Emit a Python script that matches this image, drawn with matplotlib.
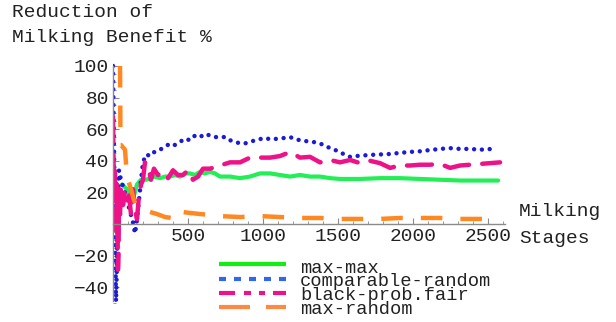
import matplotlib
matplotlib.use("Agg")
import matplotlib.pyplot as plt
from matplotlib.lines import Line2D
from matplotlib.ticker import MultipleLocator, FixedLocator

plt.rcParams['font.family'] = ['Liberation Mono', 'DejaVu Sans Mono']
plt.rcParams['lines.scale_dashes'] = False

# ---------------- data ----------------
series_names = ["max-max", "comparable-random", "black-prob.fair", "max-random"]

mm_x = [60, 93, 120, 140, 160, 187, 220, 247, 280, 313, 347, 380, 413, 447, 480, 513, 547, 580,
        613, 647, 680, 713, 780, 847, 913, 980, 1047, 1113, 1180, 1247, 1313, 1380, 1447, 1513,
        1647, 1780, 1913, 2047, 2180, 2313, 2447, 2567]
mm_y = [25, 22, 15, 18, 25, 28, 28, 29, 30, 29, 30, 30, 31, 30, 32, 32, 31, 33,
        32, 33, 32, 30, 30, 29, 30, 32, 32, 31, 30, 31, 30, 30, 29, 28.5,
        28.5, 29, 29, 28.5, 28, 27.5, 27.5, 27.5]

cr_x = [0, 7, 13, 20, 27, 33, 40, 53, 73, 93, 113, 133, 147, 160, 173, 187, 200, 220, 250, 280,
        313, 350, 380, 413, 447, 480, 513, 547, 580, 613, 647, 680, 713, 750, 780, 813, 847, 880,
        913, 950, 1013, 1050, 1100, 1150, 1180, 1220, 1280, 1330, 1380, 1420, 1467, 1520, 1580,
        1620, 1713, 1780, 1847, 1913, 1980, 2047, 2113, 2180, 2247, 2313, 2380, 2447, 2527]
cr_y = [100, 47, 0, -49, -23, 15, 34, 28, 22, 15, 8, 1, -6, 3, 15, 28, 39, 44, 43, 46,
        47, 49, 51, 50, 52, 54, 53, 56, 55, 57, 56, 55, 55, 55, 53, 52, 51, 51,
        52, 53, 54.5, 53.5, 54, 54.5, 55, 53.5, 52.5, 52, 51, 49, 47.5, 45, 42.5,
        43, 43.7, 44, 44.3, 45, 45.6, 46, 46.8, 47.5, 48, 47.5, 47.5, 47, 47.5]

bp_x = [0, 7, 13, 20, 27, 33, 37, 40, 47, 53, 67, 80, 93, 107, 120, 133, 147, 160, 173, 187,
        200, 213, 233, 253, 273, 300, 333, 367, 400, 433, 467, 500, 533, 567, 600, 647, 713,
        780, 847, 913, 980, 1047, 1113, 1180, 1247, 1313, 1380, 1447, 1513, 1580, 1647, 1713,
        1780, 1847, 1913, 1980, 2047, 2113, 2180, 2247, 2313, 2380, 2447, 2513, 2580]
bp_y = [68, 15, 34, -4, 28, -29, -20, 22, 6, 25, 12, 22, 15, 18, 6, 22, 9, 3, 18, 25,
        28, 39, 37, 28, 35, 31, 33, 29, 34, 31, 31, 34, 28, 30, 35, 35, 37,
        39, 39, 42, 42, 42, 43, 45.5, 42, 42.5, 39, 40.5, 39, 40.5, 38.5, 40,
        38.5, 35.5, 37, 37, 37.5, 37.5, 38, 35.5, 37, 37.5, 38, 38.5, 39]

mr_x = [47, 50, 53, 80, 90, 100, 120, 140, 153, 180, 213, 247, 293, 347, 393, 400, 460, 513,
        580, 647, 713, 847, 980, 1113, 1247, 1380, 1513, 1647, 1780, 1913, 2047, 2180, 2313,
        2447, 2567]
mr_y = [100, 50, 50, 47, 34, 28, 22, 15, 12, 10, 9, 7.6, 6.3, 4.4, 3.8, 7.6, 7.6, 7,
        6.3, 5.7, 5, 4.4, 5, 4.4, 3.8, 3.8, 3.2, 3.2, 3.2, 3.8, 3.8, 3.8, 3.2,
        3.2, 3.2]

x_ticks = [500, 1000, 1500, 2000, 2500]
y_ticks = [-40, -20, 20, 40, 60, 80, 100]

# ---------------- styles ----------------
px = 0.72  # points per pixel at dpi 100
green = '#22ee55'
blue = '#1a1ad8'
magenta = '#ee1188'
orange = '#ff8822'

W, H = 616, 322
fig = plt.figure(figsize=(W / 100, H / 100), dpi=100)
ax_left, ax_right = 113, 505
ax_top, ax_bot = 62.8, 303
ax = fig.add_axes([ax_left / W, 1 - ax_bot / H, (ax_right - ax_left) / W, (ax_bot - ax_top) / H])
ax.set_xlim(0, 2613)
ax.set_ylim(-50, 102)

ax.plot(mm_x, mm_y, color=green, lw=3.0, solid_capstyle='round', solid_joinstyle='round')
ax.plot(cr_x, cr_y, color=blue, lw=3.2, linestyle=(0, (0.01, 5.6)), dash_capstyle='round')
ax.plot(bp_x, bp_y, color=magenta, lw=3.2, linestyle=(0, (18, 9.5)), dash_capstyle='round',
        dash_joinstyle='round')
ax.plot(mr_x, mr_y, color=orange, lw=3.2, linestyle=(0, (15.5, 13)), dash_capstyle='butt')

for s in ['top', 'right']:
    ax.spines[s].set_visible(False)
ax.spines['left'].set_position(('data', 0))
ax.spines['bottom'].set_position(('data', 0))
for s in ['left', 'bottom']:
    ax.spines[s].set_color('#8a8a8a')
    ax.spines[s].set_linewidth(1.0)
ax.spines['left'].set_bounds(-49, 100)

ax.xaxis.set_major_locator(FixedLocator(x_ticks))
ax.xaxis.set_minor_locator(MultipleLocator(100))
ax.yaxis.set_major_locator(FixedLocator(y_ticks))
ax.yaxis.set_minor_locator(MultipleLocator(5))
ax.tick_params(axis='both', which='major', direction='in', length=4, width=0.8, color='#8a8a8a',
               labelsize=14, labelcolor='#222222', pad=3)
ax.tick_params(axis='both', which='minor', direction='in', length=2, width=0.6, color='#8a8a8a')
ax.patch.set_visible(False)

# axis labels
fs = 14
fig.text(12 / W, 1 - 17 / H, "Reduction of", fontsize=fs, va='baseline', ha='left', color='#222222')
fig.text(12 / W, 1 - 42 / H, "Milking Benefit %", fontsize=fs, va='baseline', ha='left', color='#222222')
fig.text(519 / W, 1 - 216 / H, "Milking", fontsize=fs, va='baseline', ha='left', color='#222222')
fig.text(519 / W, 1 - 243 / H, "Stages", fontsize=fs, va='baseline', ha='left', color='#222222')

# legend (manual)
leg_styles = [
    dict(color='#11ee11', lw=3.0, linestyle='-'),
    dict(color='#3366ee', lw=3.0, linestyle=(0, (7 * px, 8 * px))),
    dict(color=magenta, lw=3.0, linestyle=(0, (16 * px, 9 * px, 7 * px, 8 * px, 6 * px, 8 * px))),
    dict(color='#ff8844', lw=3.0, linestyle=(0, (31 * px, 16 * px))),
]
line_y = [264, 279, 293, 307]
text_y = [273, 286, 300, 314]
leg_fs = 13.5
for name, st, ly, ty in zip(series_names, leg_styles, line_y, text_y):
    fig.add_artist(Line2D([219 / W, 286 / W], [1 - ly / H, 1 - ly / H], transform=fig.transFigure,
                          solid_capstyle='butt', dash_capstyle='butt', **st))
    fig.text(300 / W, 1 - ty / H, name, fontsize=leg_fs, va='baseline', ha='left', color='#222222')

fig.savefig("out.png", dpi=100, facecolor='white')
